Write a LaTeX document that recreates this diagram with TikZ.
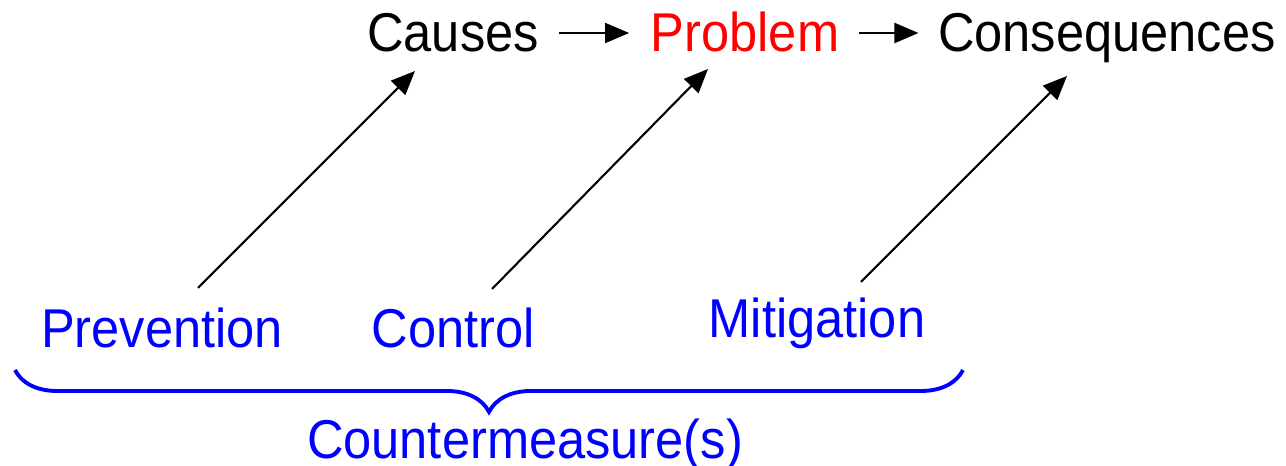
\documentclass[tikz,border=0pt]{standalone}
\usepackage{fontspec}
\setmainfont{Liberation Sans}
\usepackage{tikz}
\usetikzlibrary{calc,positioning,arrows.meta,decorations.pathreplacing}
\newcommand{\tall}[1]{\scalebox{1}[1.08]{#1}}

\begin{document}
\begin{tikzpicture}[txt/.style={font=\fontsize{14.4}{17}\selectfont,inner sep=0pt,anchor=base,text height=10.8pt,text depth=0pt},
                    arr/.style={-{Triangle[length=2.4mm,width=2mm]},line width=0.6pt},
                    brc/.style={decorate,decoration={brace,mirror,amplitude=0.42cm},blue,line width=1.1pt}]
              \useasboundingbox (0,0) rectangle (12.86,4.66);
              \node[txt] (causes) at (4.53,4.14) {\tall{Causes}};
              \node[txt,red] (prob) at (7.45,4.14) {\tall{Problem}};
              \node[txt] (cons) at (11.07,4.14) {\tall{Consequences}};

              \node[txt,blue] (prev) at (1.62,1.18) {\tall{Prevention}};
              \node[txt,blue] (ctrl) at (4.535,1.18) {\tall{Control}};
              \node[txt,blue] (miti) at (8.17,1.28) {\tall{Mitigation}};
              \node[txt,blue] (cm) at (5.25,0.07) {\tall{Countermeasure(s)}};

              \coordinate (bl) at (0.15,0.96);
              \coordinate (br) at (9.63,0.96);

              \draw[arr,shorten <=0.19cm,shorten >=0.21cm] (causes.east) -- (prob.west);
              \draw[arr,shorten <=0.19cm,shorten >=0.19cm] (prob.east) -- (cons.west);
              \draw[arr] ([shift={(0.36,0.60)}]prev.base) -- ([shift={(-0.38,-0.19)}]causes.base);
              \draw[arr] ([shift={(0.385,0.59)}]ctrl.base) -- ([shift={(-0.37,-0.17)}]prob.base);
              \draw[arr] ([shift={(0.44,0.56)}]miti.base) -- ([shift={(-0.40,-0.24)}]cons.base);
              \draw[brc] (bl) -- (br);
            \end{tikzpicture}
\end{document}
